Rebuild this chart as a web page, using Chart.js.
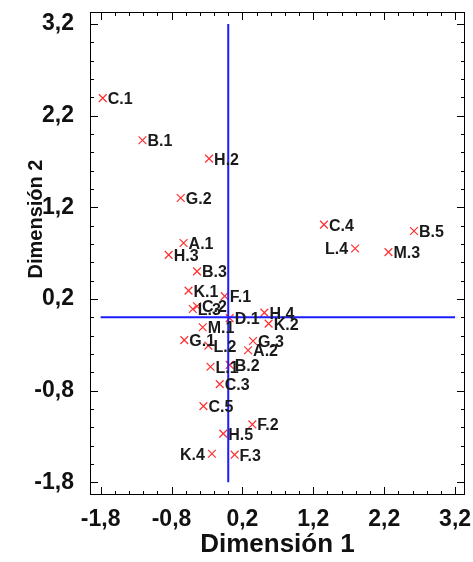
<!DOCTYPE html>
<html lang="es">
<head>
  <meta charset="UTF-8">
  <style>
    body { margin: 0; background: #fff; }
    #wrap { width: 473px; height: 562px; }
  </style>
</head>
<body>
  <div id="wrap"><canvas id="myChart" width="473" height="562"></canvas></div>

  <script src="https://cdn.jsdelivr.net/npm/chart.js"></script>
  <script>
    // category labels and coordinates
    const names = ['C.1', 'B.1', 'H.2', 'G.2', 'A.1', 'H.3', 'B.3', 'K.1', 'F.1', 'L.3', 'C.2',
                   'D.1', 'H.4', 'K.2', 'M.1', 'G.1', 'L.2', 'G.3', 'A.2', 'L.1', 'B.2', 'C.3',
                   'C.5', 'F.2', 'H.5', 'K.4', 'F.3', 'C.4', 'L.4', 'B.5', 'M.3'];
    const dim1 = [-1.77, -1.21, -0.27, -0.67, -0.63, -0.84, -0.44, -0.56, -0.05, -0.50, -0.44,
                  0.02, 0.51, 0.57, -0.36, -0.62, -0.28, 0.35, 0.28, -0.25, 0.02, -0.12,
                  -0.35, 0.34, -0.07, -0.23, 0.09, 1.35, 1.79, 2.62, 2.26];
    const dim2 = [2.39, 1.93, 1.73, 1.30, 0.81, 0.68, 0.50, 0.29, 0.23, 0.09, 0.12,
                  -0.01, 0.05, -0.07, -0.11, -0.25, -0.31, -0.26, -0.36, -0.54, -0.52, -0.73,
                  -0.97, -1.17, -1.27, -1.49, -1.50, 1.01, 0.75, 0.94, 0.71];
    // labels printed on the left of their marker
    const leftLabels = ['K.4', 'L.4'];

    const tickValues = [-1.8, -0.8, 0.2, 1.2, 2.2, 3.2];
    const lineSpan = [-1.8, 3.2];   // extent of the blue reference lines

    const FONT = 'Arial, "Liberation Sans", sans-serif';

    // frame with inward ticks on all four sides + rotated y title
    const framePlugin = {
      id: 'frame',
      afterDraw(chart) {
        const { ctx, chartArea: a, scales: { x, y } } = chart;
        ctx.save();
        ctx.strokeStyle = '#000';
        ctx.lineWidth = 1;
        ctx.strokeRect(a.left + 0.5, a.top + 0.5, a.right - a.left - 1, a.bottom - a.top - 1);
        ctx.beginPath();
        for (let i = 0; i <= 25; i++) {
          const v = tickValues[0] + i * 0.2;
          const len = i % 5 === 0 ? 8 : 4;
          const px = Math.round(x.getPixelForValue(v)) + 0.5;
          ctx.moveTo(px, a.bottom); ctx.lineTo(px, a.bottom - len);
          ctx.moveTo(px, a.top); ctx.lineTo(px, a.top + len);
          const py = Math.round(y.getPixelForValue(v)) + 0.5;
          ctx.moveTo(a.left, py); ctx.lineTo(a.left + len, py);
          ctx.moveTo(a.right, py); ctx.lineTo(a.right - len, py);
        }
        ctx.stroke();

        ctx.font = 'bold 20px ' + FONT;
        ctx.fillStyle = '#111';
        ctx.translate(36, 219);
        ctx.rotate(-Math.PI / 2);
        ctx.textAlign = 'center';
        ctx.textBaseline = 'middle';
        ctx.fillText('Dimensión 2', 0, 0);
        ctx.restore();
      }
    };

    // point names next to the markers
    const labelPlugin = {
      id: 'pointLabels',
      afterDatasetsDraw(chart) {
        const ctx = chart.ctx;
        const meta = chart.getDatasetMeta(2);
        ctx.save();
        ctx.font = 'bold 16px ' + FONT;
        ctx.fillStyle = '#1a1a1a';
        ctx.textBaseline = 'alphabetic';
        meta.data.forEach((pt, i) => {
          const left = leftLabels.includes(names[i]);
          ctx.textAlign = left ? 'right' : 'left';
          ctx.fillText(names[i], left ? pt.x - 7 : pt.x + 5, pt.y + 6);
        });
        ctx.restore();
      }
    };

    const fmt = v => Number(v).toFixed(1).replace('.', ',');

    const ctx = document.getElementById('myChart').getContext('2d');
    new Chart(ctx, {
      type: 'scatter',
      data: {
        datasets: [
          {
            data: lineSpan.map(v => ({ x: 0, y: v })),
            showLine: true,
            borderColor: '#1c1cff',
            borderWidth: 2,
            pointRadius: 0
          },
          {
            data: lineSpan.map(v => ({ x: v, y: 0 })),
            showLine: true,
            borderColor: '#1c1cff',
            borderWidth: 2,
            pointRadius: 0
          },
          {
            data: names.map((n, i) => ({ x: dim1[i], y: dim2[i] })),
            pointStyle: 'crossRot',
            pointRadius: 5.5,
            borderColor: '#ff3030',
            borderWidth: 1.2
          }
        ]
      },
      options: {
        responsive: false,
        animation: false,
        layout: { padding: { top: 12, right: 8, left: 0, bottom: 0 } },
        plugins: {
          legend: { display: false },
          tooltip: { enabled: false }
        },
        scales: {
          x: {
            type: 'linear',
            min: -1.95,
            max: 3.34,
            grid: { display: false },
            border: { display: false },
            afterBuildTicks: s => { s.ticks = tickValues.map(v => ({ value: v })); },
            afterFit: s => { s.height = 67; s.paddingLeft = 0; s.paddingRight = 0; },
            ticks: {
              padding: 3,
              color: '#111',
              font: { size: 23, weight: 'bold', family: FONT },
              callback: fmt,
              maxRotation: 0
            },
            title: {
              display: true,
              text: 'Dimensión 1',
              color: '#111',
              font: { size: 26, weight: 'bold', family: FONT },
              padding: { top: 0, bottom: 2 }
            }
          },
          y: {
            type: 'linear',
            min: -1.94,
            max: 3.33,
            grid: { display: false },
            border: { display: false },
            afterBuildTicks: s => { s.ticks = tickValues.map(v => ({ value: v })); },
            afterFit: s => { s.width = 90; s.paddingTop = 0; s.paddingBottom = 0; },
            ticks: {
              padding: 8,
              color: '#111',
              font: { size: 23, weight: 'bold', family: FONT },
              callback: fmt
            }
          }
        }
      },
      plugins: [framePlugin, labelPlugin]
    });
  </script>
</body>
</html>
